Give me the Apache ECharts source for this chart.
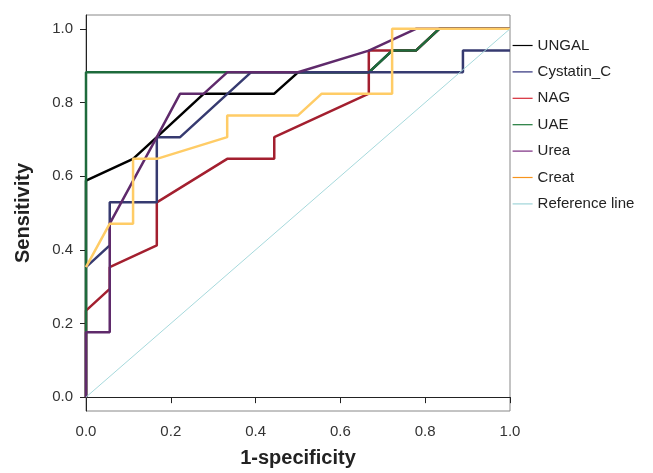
<!DOCTYPE html>
<html>
<head>
<meta charset="utf-8">
<script src="https://cdn.jsdelivr.net/npm/echarts@6/dist/echarts.min.js"></script>
<style>
  html, body { margin: 0; padding: 0; background: #fff; }
  #chart { width: 653px; height: 473px; }
</style>
</head>
<body>
<div id="chart"></div>
<script>
// ROC curves: [1-specificity, sensitivity]
const ungal = [[0, 0], [0, 0.588], [0.111, 0.647], [0.167, 0.706], [0.278, 0.824], [0.444, 0.824], [0.5, 0.882], [0.667, 0.882], [0.722, 0.941], [0.778, 0.941], [0.833, 1], [1, 1]]
const cystatinC = [[0, 0.353], [0.056, 0.412], [0.056, 0.529], [0.167, 0.529], [0.167, 0.706], [0.222, 0.706], [0.389, 0.882], [0.889, 0.882], [0.889, 0.941], [1, 0.941]]
const nag = [[0, 0], [0, 0.235], [0.056, 0.294], [0.056, 0.353], [0.167, 0.412], [0.167, 0.529], [0.333, 0.647], [0.444, 0.647], [0.444, 0.706], [0.667, 0.824], [0.667, 0.941], [0.722, 0.941], [0.778, 0.941], [0.833, 1], [1, 1]]
const uae = [[0, 0], [0, 0.882], [0.667, 0.882], [0.722, 0.941], [0.778, 0.941], [0.833, 1], [1, 1]]
const urea = [[0, 0], [0, 0.176], [0.056, 0.176], [0.056, 0.471], [0.167, 0.706], [0.222, 0.824], [0.278, 0.824], [0.333, 0.882], [0.5, 0.882], [0.667, 0.941], [0.778, 1], [1, 1]]
const creat = [[0, 0.353], [0.056, 0.471], [0.111, 0.471], [0.111, 0.647], [0.167, 0.647], [0.333, 0.706], [0.333, 0.765], [0.5, 0.765], [0.556, 0.824], [0.722, 0.824], [0.722, 1], [1, 1]]
const referenceLine = [[0, 0], [1, 1]]

const seriesNames = ['UNGAL', 'Cystatin_C', 'NAG', 'UAE', 'Urea', 'Creat', 'Reference line']
const yTicks = [0, 0.2, 0.4, 0.6, 0.8, 1.0]

const colors = {
  UNGAL: '#000000',
  Cystatin_C: '#363a70',
  NAG: '#a31f2f',
  UAE: '#1e6b3c',
  Urea: '#5f2a6b',
  Creat: '#ffcc66',
  'Reference line': '#a6d9dc'
}
// legend swatches are brighter than the plotted lines
const legendColors = {
  UNGAL: '#000000',
  Cystatin_C: '#2d2f7a',
  NAG: '#d62a36',
  UAE: '#1f7a3a',
  Urea: '#7a2a80',
  Creat: '#f7941d',
  'Reference line': '#9fd5d8'
}

const chart = echarts.init(document.getElementById('chart'))

const makeLine = (name, data, z, width) => ({
  name,
  type: 'line',
  data,
  z,
  clip: false,
  symbol: 'none',
  animation: false,
  lineStyle: { color: colors[name], width },
  itemStyle: { color: colors[name] }
})

const option = {
  animation: false,
  textStyle: { fontFamily: "'Liberation Sans', Arial, sans-serif" },
  grid: {
    left: 86,
    right: 143,
    top: 15,
    bottom: 58,
    show: true,
    borderColor: '#888',
    borderWidth: 1
  },
  legend: {
    orient: 'vertical',
    left: 507,
    top: 33,
    itemWidth: 20,
    itemHeight: 14,
    itemGap: 11.4,
    textStyle: { fontSize: 15, color: '#222', fontFamily: "'Liberation Sans', Arial, sans-serif" },
    data: seriesNames.map(n => ({
      name: n,
      itemStyle: { opacity: 0 },
      lineStyle: { color: legendColors[n], width: 1.2 }
    }))
  },
  xAxis: {
    type: 'value',
    min: 0,
    max: 1,
    interval: 0.2,
    name: '1-specificity',
    nameLocation: 'middle',
    nameGap: 37,
    nameTextStyle: { fontSize: 20, fontWeight: 'bold', color: '#222' },
    axisLine: { show: true, lineStyle: { color: '#222', width: 1 } },
    axisTick: { show: true, inside: false, length: 6, lineStyle: { color: '#222' } },
    axisLabel: { fontSize: 15, color: '#333', margin: 13, formatter: v => v.toFixed(1) },
    splitLine: { show: false }
  },
  yAxis: {
    type: 'value',
    min: -0.0376,
    max: 1.0376,
    name: 'Sensitivity',
    nameLocation: 'middle',
    nameGap: 53,
    nameTextStyle: { fontSize: 20, fontWeight: 'bold', color: '#222' },
    axisLine: { show: true, onZero: false, lineStyle: { color: '#222', width: 1 } },
    axisTick: { show: true, length: 6, customValues: yTicks, lineStyle: { color: '#222' } },
    axisLabel: { fontSize: 15, color: '#333', margin: 13, customValues: yTicks, formatter: v => v.toFixed(1) },
    splitLine: { show: false }
  },
  series: [
    makeLine('UNGAL', ungal, 2, 2.5),
    makeLine('Cystatin_C', cystatinC, 5, 2.5),
    makeLine('NAG', nag, 3, 2.5),
    makeLine('UAE', uae, 4, 2.5),
    makeLine('Urea', urea, 6, 2.5),
    makeLine('Creat', creat, 7, 2.5),
    makeLine('Reference line', referenceLine, 8, 1)
  ]
}

chart.setOption(option)
</script>
</body>
</html>
